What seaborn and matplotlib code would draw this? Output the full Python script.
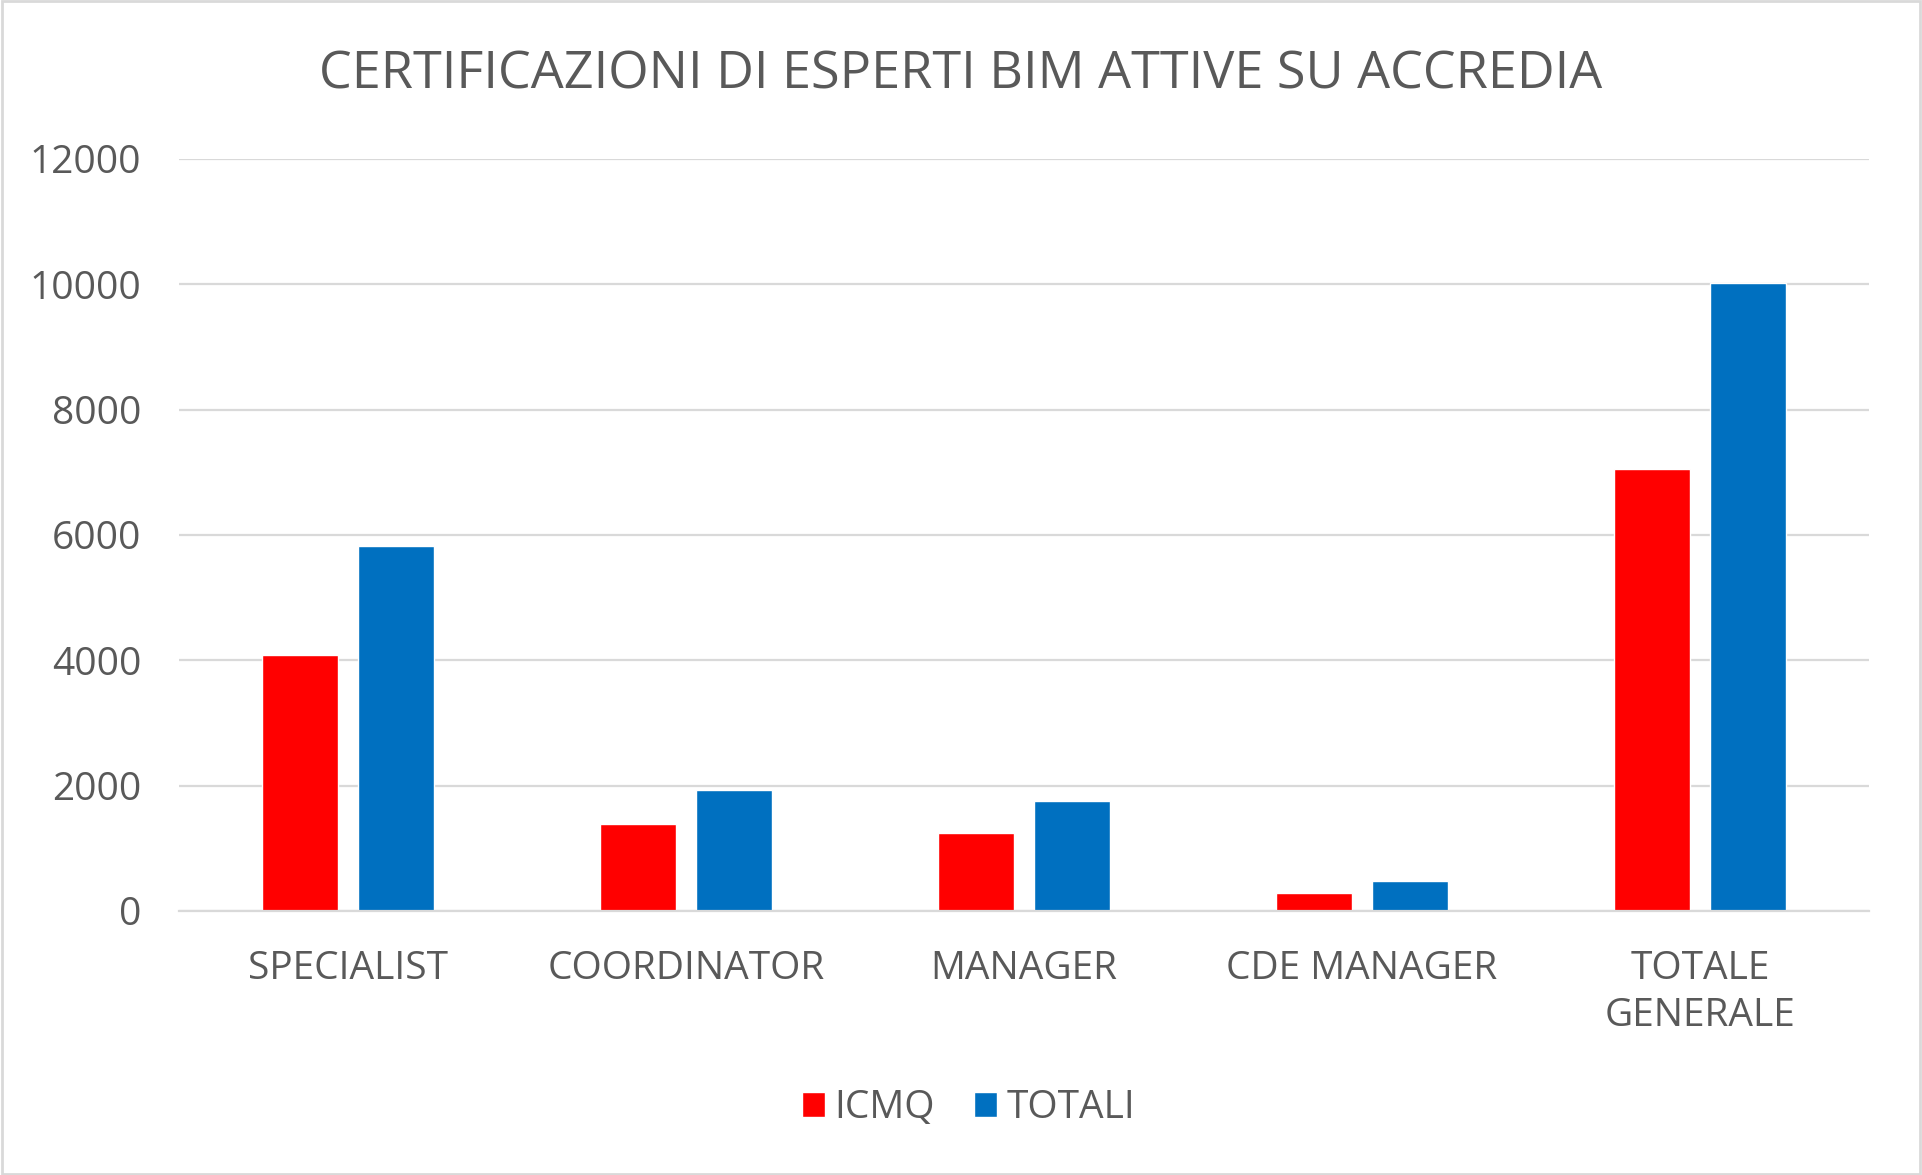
import matplotlib
matplotlib.use("Agg")
import matplotlib.pyplot as plt
import pandas as pd
import seaborn as sns
from matplotlib.patches import Rectangle

# dati
categorie = ["SPECIALIST", "COORDINATOR", "MANAGER", "CDE MANAGER", "TOTALE\nGENERALE"]
icmq = [4090, 1390, 1250, 290, 7060]
totali = [5820, 1930, 1755, 478, 10020]
serie = ["ICMQ", "TOTALI"]
yticks = [0, 2000, 4000, 6000, 8000, 10000, 12000]

titolo = "CERTIFICAZIONI DI ESPERTI BIM ATTIVE SU ACCREDIA"

df = pd.DataFrame({
    "categoria": categorie * 2,
    "valore": icmq + totali,
    "serie": [serie[0]] * len(categorie) + [serie[1]] * len(categorie),
})

sns.set_style("white")
plt.rcParams["font.family"] = ["Open Sans", "DejaVu Sans"]

grigio = "#595959"
linea = "#D9D9D9"

fig = plt.figure(figsize=(19.22, 11.75), dpi=100)
ax = fig.add_axes([0.0931, 0.2247, 0.8793, 0.64])

sns.barplot(data=df, x="categoria", y="valore", hue="serie",
            palette=["#FF0000", "#0070C0"], width=0.566, gap=0.205,
            saturation=1, ax=ax)

ax.set_ylim(0, 12000)
ax.set_yticks(yticks)
ax.set_xlim(-0.5, len(categorie) - 0.5)
ax.yaxis.grid(True, color=linea, linewidth=1.6)
ax.set_axisbelow(True)
for s in ["top", "right", "left"]:
    ax.spines[s].set_visible(False)
ax.spines["bottom"].set_color(linea)
ax.spines["bottom"].set_linewidth(1.6)
ax.tick_params(axis="both", length=0, colors=grigio, labelsize=28)
ax.tick_params(axis="x", pad=28)
ax.tick_params(axis="y", pad=27)
for t in ax.get_xticklabels():
    t.set_linespacing(1.3)
ax.set_xlabel("")
ax.set_ylabel("")

handles, labels = ax.get_legend_handles_labels()
ax.get_legend().remove()
fig.legend(handles, labels, loc="center", bbox_to_anchor=(0.504, 0.057),
           ncol=2, frameon=False, fontsize=28, labelcolor=grigio,
           handlelength=0.6, handleheight=0.6, handletextpad=0.25,
           columnspacing=1.0)

fig.text(0.5, 0.936, titolo, ha="center", va="center", fontsize=37.5, color=grigio)

# cornice grigia attorno al grafico
fig.patches.append(Rectangle((0.001, 0.001), 0.998, 0.998, transform=fig.transFigure,
                             fill=False, edgecolor=linea, linewidth=2))

fig.savefig("out.png", dpi=100)
